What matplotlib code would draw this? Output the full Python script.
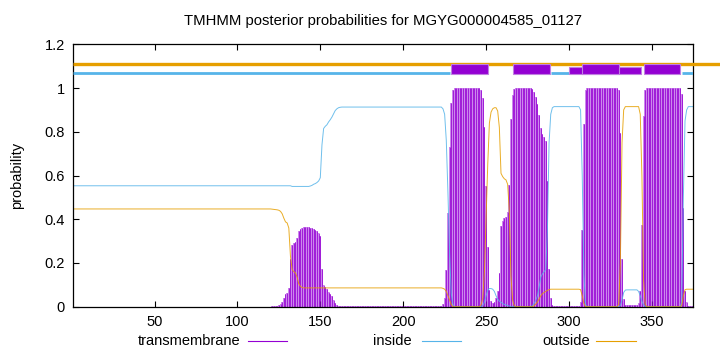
import matplotlib
matplotlib.use('Agg')
import matplotlib.pyplot as plt
from matplotlib.lines import Line2D
from matplotlib.patches import Rectangle

plt.rcParams['font.family'] = ['Liberation Sans', 'DejaVu Sans']

title = 'TMHMM posterior probabilities for MGYG000004585_01127'
seq_len = 375

# posterior probabilities per residue (1..375)
inside = ([0.553] * 132 + [0.55] * 11 +
          [0.552, 0.555, 0.56, 0.563, 0.568, 0.575, 0.59, 0.74, 0.815, 0.825,
           0.832, 0.845, 0.855, 0.867, 0.882, 0.897, 0.905, 0.91, 0.912] +
          [0.913] * 61 +
          [0.905, 0.88, 0.76, 0.52, 0.24, 0.06, 0.01] +
          [0.0] * 17 +
          [0.005, 0.02, 0.05, 0.075, 0.083, 0.083, 0.08, 0.07, 0.05, 0.035,
           0.025, 0.02, 0.015, 0.01, 0.008, 0.005, 0.003] +
          [0.0] * 13 +
          [0.005, 0.015, 0.03, 0.05, 0.09, 0.135, 0.15, 0.16, 0.17, 0.35,
           0.75, 0.88, 0.91] +
          [0.915] * 16 +
          [0.9, 0.6, 0.15, 0.01] +
          [0.0] * 20 +
          [0.005, 0.03, 0.065, 0.076] +
          [0.077] * 7 +
          [0.07, 0.05, 0.025, 0.008] +
          [0.0] * 22 +
          [0.02, 0.5, 0.85, 0.9] +
          [0.915] * 4)

outside = ([0.447] * 120 +
           [0.446, 0.445, 0.444, 0.443, 0.441, 0.436, 0.425, 0.405, 0.388, 0.383,
            0.36, 0.23, 0.17, 0.16, 0.155, 0.135, 0.105, 0.093, 0.088] +
           [0.086] * 84 +
           [0.084, 0.08, 0.07, 0.05, 0.03, 0.01] +
           [0.0] * 17 +
           [0.01, 0.04, 0.16, 0.40, 0.65, 0.84, 0.89, 0.905, 0.91, 0.91,
            0.895, 0.82, 0.61, 0.595, 0.585, 0.58, 0.56, 0.44, 0.14, 0.03, 0.005] +
           [0.0] * 11 +
           [0.005, 0.012, 0.022, 0.035, 0.05, 0.06, 0.065, 0.07, 0.075, 0.078] +
           [0.08] * 18 +
           [0.078, 0.05, 0.015] +
           [0.0] * 20 +
           [0.01, 0.2, 0.75, 0.9] +
           [0.915] * 9 +
           [0.88, 0.6, 0.12, 0.01] +
           [0.0] * 21 +
           [0.005, 0.05, 0.078] +
           [0.08] * 5)

transmembrane = ([0.0] * 120 +
                 [0.001, 0.002, 0.003, 0.004, 0.006, 0.011, 0.022, 0.042, 0.059, 0.064,
                  0.087, 0.217, 0.28, 0.29, 0.295, 0.315, 0.345, 0.357, 0.362, 0.364,
                  0.364, 0.364, 0.364, 0.362, 0.359, 0.354, 0.351, 0.346, 0.339, 0.324,
                  0.174, 0.099, 0.089, 0.082, 0.069, 0.059, 0.047, 0.032, 0.017, 0.009,
                  0.004, 0.002] +
                 [0.001] * 61 +
                 [0.011, 0.04, 0.17, 0.43, 0.73, 0.93, 0.99] +
                 [1.0] * 16 +
                 [0.99, 0.955, 0.82, 0.55, 0.275, 0.077, 0.027, 0.015, 0.02, 0.04,
                  0.07, 0.155, 0.37, 0.39, 0.405, 0.412, 0.435, 0.557, 0.86, 0.97, 0.995] +
                 [1.0] * 10 +
                 [0.995, 0.98, 0.958, 0.928, 0.875, 0.815, 0.79, 0.775, 0.76, 0.575,
                  0.172, 0.04, 0.01] +
                 [0.005] * 16 +
                 [0.022, 0.35, 0.835, 0.99] +
                 [1.0] * 19 +
                 [0.99, 0.795, 0.22, 0.035, 0.009] +
                 [0.008] * 7 +
                 [0.015, 0.07, 0.375, 0.872, 0.99] +
                 [1.0] * 21 +
                 [0.975, 0.45, 0.072, 0.02] +
                 [0.005] * 4)

residues = list(range(1, seq_len + 1))

# topology track at the top
tm_box_start = [229.1, 266.1, 308.0, 345.2]
tm_box_end = [251.2, 288.3, 330.1, 367.0]
extra_box = (300.3, 343.2)
inside_seg_start = [1.0, 289.0, 368.4]
inside_seg_end = [228.1, 307.3, 375.0]
outside_seg = (1.0, 400.0)

xticks = [50, 100, 150, 200, 250, 300, 350]
yticks = [0, 0.2, 0.4, 0.6, 0.8, 1.0, 1.2]

C_TM = '#9400D3'
C_IN = '#56B4E9'
C_OUT = '#E69F00'

fig = plt.figure(figsize=(7.2, 3.52), dpi=100)
ax = fig.add_axes([73.3 / 720, 45.3 / 352, 620 / 720, 262.4 / 352])

ax.bar(residues, transmembrane, width=1.0, color='#cc88ec', linewidth=0)
ax.vlines(residues, 0, transmembrane, color=C_TM, linewidth=0.55)
ax.plot(residues, inside, color=C_IN, lw=0.7, alpha=0.85)
ax.plot(residues, outside, color=C_OUT, lw=0.7, alpha=0.85)

ax.plot(list(outside_seg), [1.108, 1.108], color=C_OUT, lw=2.4,
        clip_on=False, solid_capstyle='butt', zorder=3)
ax.hlines([1.069] * len(inside_seg_start), inside_seg_start, inside_seg_end,
          color=C_IN, lw=2.0, zorder=3)
ax.add_patch(Rectangle((extra_box[0], 1.062), extra_box[1] - extra_box[0], 0.035,
                       facecolor=C_TM, edgecolor='#c080e0', lw=0.8, zorder=4))
for s, e in zip(tm_box_start, tm_box_end):
    ax.add_patch(Rectangle((s, 1.062), e - s, 0.05, facecolor=C_TM,
                           edgecolor='#c080e0', lw=0.8, zorder=5))

ax.set_xlim(1, seq_len)
ax.set_ylim(0, 1.2)
ax.set_xticks(xticks)
ax.set_xticklabels([str(t) for t in xticks])
ax.set_yticks(yticks)
ax.set_yticklabels([f'{t:g}' for t in yticks])
ax.tick_params(direction='in', length=4, width=0.8, top=True, right=True,
               labelsize=10.5, pad=6, colors='black')
for sp in ax.spines.values():
    sp.set_linewidth(0.9)
ax.set_ylabel('probability', fontsize=10.5, labelpad=15)
ax.set_title(title, fontsize=10.7, pad=14)

# legend row below the axis
ly = 1 - 341 / 352
legend_items = [('transmembrane', 240, 248, 287, C_TM),
                ('inside', 412, 422, 461, C_IN),
                ('outside', 590, 596, 636, C_OUT)]
for label, tx, x0, x1, col in legend_items:
    fig.text(tx / 720, ly, label, ha='right', va='center', fontsize=10.5)
    fig.add_artist(Line2D([x0 / 720, x1 / 720], [ly, ly], transform=fig.transFigure,
                          color=col, lw=0.8))

fig.savefig('out.png', dpi=100)
